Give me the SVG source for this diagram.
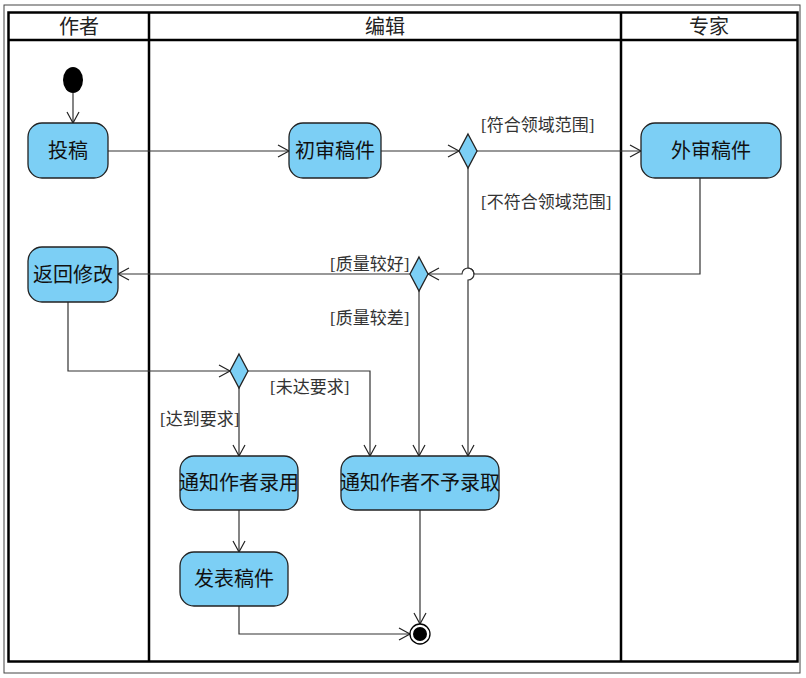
<svg xmlns="http://www.w3.org/2000/svg" width="806" height="678" viewBox="0 0 806 678">
<defs>
<marker id="a" markerWidth="14" markerHeight="14" refX="12" refY="7" orient="auto" markerUnits="userSpaceOnUse"><path d="M1,1 L12,7 L1,13" fill="none" stroke="#222" stroke-width="1.2"/></marker>
</defs>
<style>
.n{fill:#7ccff5;stroke:#222;stroke-width:1.3}
.t{font-family:"Liberation Serif","Noto Sans CJK SC",serif;font-size:20px;fill:#111;text-anchor:middle}
.l{font-family:"Liberation Serif","Noto Sans CJK SC",serif;font-size:17px;fill:#333}
.c{fill:none;stroke:#333;stroke-width:1.2}
.h{font-family:"Liberation Serif","Noto Sans CJK SC",serif;font-size:20px;fill:#222;text-anchor:middle}
</style>
<rect width="806" height="678" fill="#fff"/>
<rect x="4" y="5" width="796" height="668" fill="none" stroke="#444" stroke-width="1"/>
<g id="lanes" fill="none" stroke="#000" stroke-width="2.5">
<rect x="8.5" y="12.5" width="789" height="649"/>
<line x1="8" y1="40" x2="798" y2="40"/>
<line x1="149" y1="12" x2="149" y2="662"/>
<line x1="621" y1="12" x2="621" y2="662"/>
</g>
<text class="h" x="79" y="34">作者</text>
<text class="h" x="385" y="34">编辑</text>
<text class="h" x="709" y="34">专家</text>
<g id="connectors">
<path class="c" d="M73,93 V123" marker-end="url(#a)"/>
<path class="c" d="M108,151 H289" marker-end="url(#a)"/>
<path class="c" d="M381,151 H459" marker-end="url(#a)"/>
<path class="c" d="M477,151 H641" marker-end="url(#a)"/>
<path class="c" d="M468,168 V268 A6,6 0 0 1 468,280 V456" marker-end="url(#a)"/>
<path class="c" d="M700,178 V274 H474 A6,6 0 0 0 462,274 H428" marker-end="url(#a)"/>
<path class="c" d="M410,274 H118" marker-end="url(#a)"/>
<path class="c" d="M419,291 V456" marker-end="url(#a)"/>
<path class="c" d="M68,302 V371 H230" marker-end="url(#a)"/>
<path class="c" d="M239,388 V456" marker-end="url(#a)"/>
<path class="c" d="M248,371 H370 V456" marker-end="url(#a)"/>
<path class="c" d="M239,510 V552" marker-end="url(#a)"/>
<path class="c" d="M420,510 V624" marker-end="url(#a)"/>
<path class="c" d="M239,606 V634 H410" marker-end="url(#a)"/>
<text class="l" x="481" y="131">[符合领域范围]</text>
<text class="l" x="481" y="208">[不符合领域范围]</text>
<text class="l" x="330" y="270">[质量较好]</text>
<text class="l" x="330" y="324">[质量较差]</text>
<text class="l" x="160" y="425">[达到要求]</text>
<text class="l" x="270" y="393">[未达要求]</text>
</g>
<g id="start"><ellipse cx="73" cy="80" rx="10" ry="13" fill="#000"/></g>
<g id="submit"><rect class="n" x="28" y="123" width="80" height="55" rx="14"/><text class="t" x="68" y="158">投稿</text></g>
<g id="review1"><rect class="n" x="289" y="123" width="92" height="55" rx="14"/><text class="t" x="335" y="158">初审稿件</text></g>
<g id="d1"><polygon class="n" points="468,134 477,151 468,168 459,151"/></g>
<g id="review2"><rect class="n" x="641" y="123" width="140" height="55" rx="14"/><text class="t" x="711" y="158">外审稿件</text></g>
<g id="revise"><rect class="n" x="28" y="247" width="90" height="55" rx="14"/><text class="t" x="73" y="282">返回修改</text></g>
<g id="d2"><polygon class="n" points="419,257 428,274 419,291 410,274"/></g>
<g id="d3"><polygon class="n" points="239,354 248,371 239,388 230,371"/></g>
<g id="accept"><rect class="n" x="180" y="456" width="118" height="54" rx="14"/><text class="t" x="239" y="490">通知作者录用</text></g>
<g id="reject"><rect class="n" x="341" y="456" width="158" height="54" rx="14"/><text class="t" x="420" y="490">通知作者不予录取</text></g>
<g id="publish"><rect class="n" x="180" y="552" width="108" height="54" rx="14"/><text class="t" x="234" y="586">发表稿件</text></g>
<g id="end"><circle cx="420" cy="634" r="10" fill="#fff" stroke="#000" stroke-width="1.3"/><circle cx="420" cy="634" r="7" fill="#000"/></g>
</svg>
